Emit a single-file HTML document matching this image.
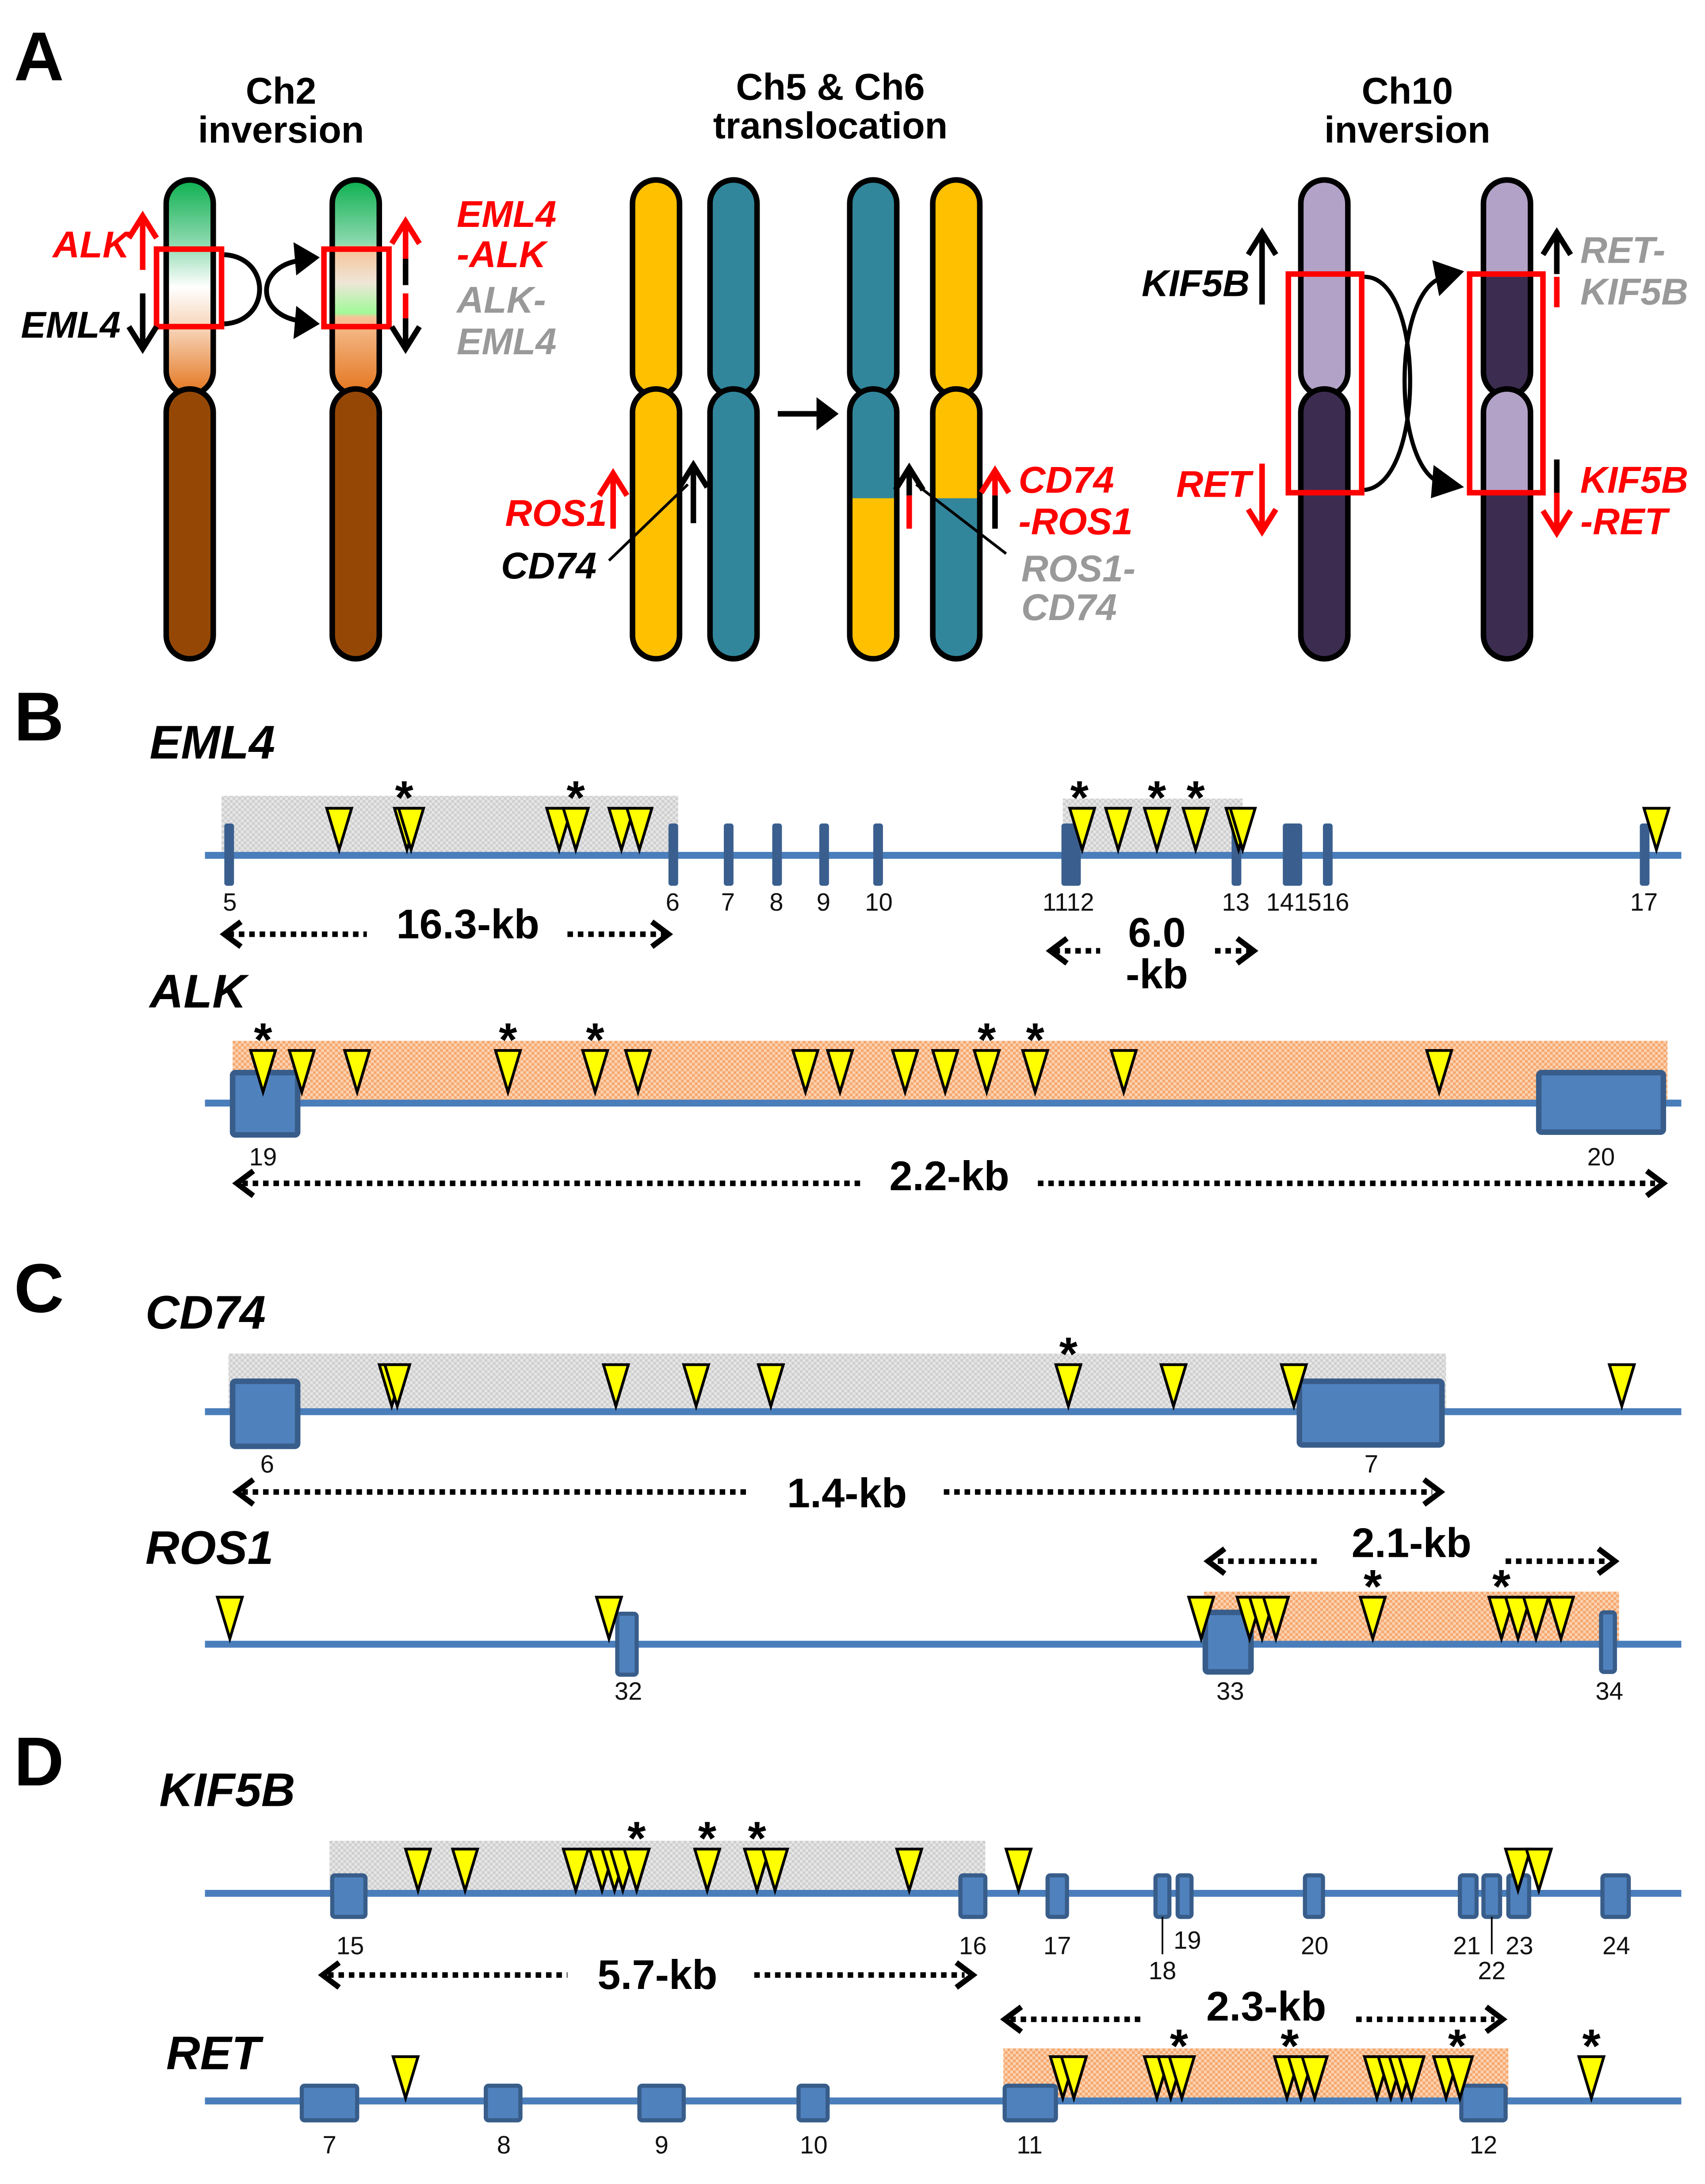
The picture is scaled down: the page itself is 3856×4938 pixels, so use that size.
<!DOCTYPE html>
<html><head><meta charset="utf-8"><style>
html,body{margin:0;padding:0;background:#fff;}
svg{display:block;}
text{font-family:"Liberation Sans",sans-serif;}
.lab{font-weight:bold;font-style:italic;font-size:34px;}
.big{font-weight:bold;font-size:50px;}
.ttl{font-weight:bold;font-size:27px;}
.num{font-size:18px;fill:#111;}
.kb{font-weight:bold;font-size:30px;}
.ast{font-weight:bold;font-size:34px;}
.gl{font-weight:bold;font-style:italic;font-size:27px;}
</style></head><body>
<svg width="3856" height="4938" viewBox="0 0 1232 1578" xmlns="http://www.w3.org/2000/svg">
<defs>
<polygon id="t" points="-9,0 9,0 0,30" fill="#FFFF00" stroke="#000" stroke-width="2" stroke-linejoin="miter"/>
<linearGradient id="g1" x1="0" y1="0" x2="0" y2="1">
<stop offset="0" stop-color="#0DB050"/><stop offset="0.3" stop-color="#8FDAB0"/><stop offset="0.5" stop-color="#fff"/><stop offset="0.7" stop-color="#F6D2B5"/><stop offset="1" stop-color="#E3741C"/></linearGradient>
<linearGradient id="g2" x1="0" y1="0" x2="0" y2="1">
<stop offset="0" stop-color="#0DB050"/><stop offset="0.3" stop-color="#8FDAB0"/><stop offset="0.32" stop-color="#F7C297"/><stop offset="0.48" stop-color="#EEE6D8"/><stop offset="0.62" stop-color="#A0FA98"/><stop offset="0.64" stop-color="#F7C297"/><stop offset="1" stop-color="#E3741C"/></linearGradient>
<pattern id="gp" width="4" height="4" patternUnits="userSpaceOnUse"><rect width="4" height="4" fill="#E6E6E6"/><rect width="2" height="2" fill="#CFCFCF"/><rect x="2" y="2" width="2" height="2" fill="#CFCFCF"/></pattern>
<pattern id="op" width="4" height="4" patternUnits="userSpaceOnUse"><rect width="4" height="4" fill="#FBD3B3"/><rect width="2" height="2" fill="#F6A86E"/><rect x="2" y="2" width="2" height="2" fill="#F6A86E"/></pattern>
</defs>
<rect width="1232" height="1578" fill="#fff"/>

<!-- ===== Panel A ===== -->
<text x="10" y="58" class="big">A</text>
<text x="203" y="75" class="ttl" text-anchor="middle">Ch2</text>
<text x="203" y="103" class="ttl" text-anchor="middle">inversion</text>
<text x="600" y="72" class="ttl" text-anchor="middle">Ch5 &amp; Ch6</text>
<text x="600" y="100" class="ttl" text-anchor="middle">translocation</text>
<text x="1017" y="75" class="ttl" text-anchor="middle">Ch10</text>
<text x="1017" y="103" class="ttl" text-anchor="middle">inversion</text>

<g stroke="#000" stroke-width="4">
<rect x="120" y="130" width="34" height="155" rx="17" fill="url(#g1)"/>
<rect x="120" y="281" width="34" height="195" rx="17" fill="#954806"/>
<rect x="240" y="130" width="34" height="155" rx="17" fill="url(#g2)"/>
<rect x="240" y="281" width="34" height="195" rx="17" fill="#954806"/>
</g>
<rect x="113" y="180" width="47" height="56" fill="none" stroke="#f00" stroke-width="4"/>
<rect x="234" y="180" width="47" height="56" fill="none" stroke="#f00" stroke-width="4"/>
<path d="M162,184 C196,186 196,232 162,234" fill="none" stroke="#000" stroke-width="3.5"/>
<path d="M218,188 C184,192 184,228 218,232" fill="none" stroke="#000" stroke-width="3.5"/>
<polygon points="212,175 231,186 214,199" fill="#000"/>
<polygon points="214,221 231,234 212,245" fill="#000"/>
<!-- ALK/EML4 arrows -->
<line x1="103" y1="195" x2="103" y2="158" stroke="#f00" stroke-width="4"/>
<polyline points="93,172 103,156 113,172" fill="none" stroke="#f00" stroke-width="4"/>
<line x1="103" y1="212" x2="103" y2="250" stroke="#000" stroke-width="4"/>
<polyline points="93,236 103,252 113,236" fill="none" stroke="#000" stroke-width="4"/>
<text x="38" y="186" class="gl" fill="#f00">ALK</text>
<text x="15" y="244" class="gl" fill="#000">EML4</text>
<line x1="293" y1="195" x2="293" y2="160" stroke="#f00" stroke-width="4"/>
<line x1="293" y1="187" x2="293" y2="206" stroke="#000" stroke-width="4"/>
<line x1="293" y1="212" x2="293" y2="230" stroke="#f00" stroke-width="4"/>
<line x1="293" y1="230" x2="293" y2="250" stroke="#000" stroke-width="4"/>
<polyline points="283,176 293,160 303,176" fill="none" stroke="#f00" stroke-width="4"/>
<polyline points="283,236 293,252 303,236" fill="none" stroke="#000" stroke-width="4"/>
<text x="330" y="164" class="gl" fill="#f00">EML4</text>
<text x="330" y="193" class="gl" fill="#f00">-ALK</text>
<text x="330" y="226" class="gl" fill="#999">ALK-</text>
<text x="330" y="256" class="gl" fill="#999">EML4</text>

<!-- Ch5/6 -->
<g stroke="#000" stroke-width="4">
<rect x="457" y="130" width="34" height="156" rx="17" fill="#FFC000"/>
<rect x="457" y="281" width="34" height="195" rx="17" fill="#FFC000"/>
<rect x="513" y="130" width="34" height="156" rx="17" fill="#31869B"/>
<rect x="513" y="281" width="34" height="195" rx="17" fill="#31869B"/>
<rect x="614" y="130" width="34" height="156" rx="17" fill="#31869B"/>
<rect x="674" y="130" width="34" height="156" rx="17" fill="#FFC000"/>
</g>
<path d="M614,298 a17,17 0 0 1 34,0 V360 H614 Z" fill="#31869B"/>
<path d="M614,360 H648 V459 a17,17 0 0 1 -34,0 Z" fill="#FFC000"/>
<rect x="614" y="281" width="34" height="195" rx="17" fill="none" stroke="#000" stroke-width="4"/>
<path d="M674,298 a17,17 0 0 1 34,0 V360 H674 Z" fill="#FFC000"/>
<path d="M674,360 H708 V459 a17,17 0 0 1 -34,0 Z" fill="#31869B"/>
<rect x="674" y="281" width="34" height="195" rx="17" fill="none" stroke="#000" stroke-width="4"/>
<line x1="562" y1="299" x2="592" y2="299" stroke="#000" stroke-width="4"/>
<polygon points="590,287 606,299 590,311" fill="#000"/>
<line x1="443" y1="382" x2="443" y2="344" stroke="#f00" stroke-width="4"/>
<polyline points="433,358 443,342 453,358" fill="none" stroke="#f00" stroke-width="4"/>
<line x1="501" y1="378" x2="501" y2="338" stroke="#000" stroke-width="4"/>
<polyline points="491,352 501,336 511,352" fill="none" stroke="#000" stroke-width="4"/>
<line x1="440" y1="405" x2="497" y2="350" stroke="#000" stroke-width="2"/>
<text x="365" y="380" class="gl" fill="#f00">ROS1</text>
<text x="362" y="418" class="gl" fill="#000">CD74</text>
<line x1="657" y1="358" x2="657" y2="340" stroke="#000" stroke-width="4"/>
<polyline points="647,354 657,338 667,354" fill="none" stroke="#000" stroke-width="4"/>
<line x1="657" y1="358" x2="657" y2="382" stroke="#f00" stroke-width="4"/>
<line x1="719" y1="358" x2="719" y2="342" stroke="#f00" stroke-width="4"/>
<polyline points="709,356 719,340 729,356" fill="none" stroke="#f00" stroke-width="4"/>
<line x1="719" y1="358" x2="719" y2="382" stroke="#000" stroke-width="4"/>
<line x1="727" y1="400" x2="662" y2="350" stroke="#000" stroke-width="2"/>
<text x="736" y="356" class="gl" fill="#f00">CD74</text>
<text x="736" y="386" class="gl" fill="#f00">-ROS1</text>
<text x="738" y="420" class="gl" fill="#999">ROS1-</text>
<text x="738" y="448" class="gl" fill="#999">CD74</text>

<!-- Ch10 -->
<g stroke="#000" stroke-width="4">
<rect x="940" y="130" width="34" height="156" rx="17" fill="#B3A2C8"/>
<rect x="940" y="281" width="34" height="195" rx="17" fill="#3B2C50"/>
</g>
<path d="M1072,147 a17,17 0 0 1 34,0 V200 H1072 Z" fill="#B3A2C8"/>
<path d="M1072,200 H1106 V269 a17,17 0 0 1 -34,0 Z" fill="#3B2C50"/>
<rect x="1072" y="130" width="34" height="156" rx="17" fill="none" stroke="#000" stroke-width="4"/>
<path d="M1072,298 a17,17 0 0 1 34,0 V356 H1072 Z" fill="#B3A2C8"/>
<path d="M1072,356 H1106 V459 a17,17 0 0 1 -34,0 Z" fill="#3B2C50"/>
<rect x="1072" y="281" width="34" height="195" rx="17" fill="none" stroke="#000" stroke-width="4"/>
<rect x="931" y="198" width="53" height="158" fill="none" stroke="#f00" stroke-width="4"/>
<rect x="1062" y="198" width="53" height="158" fill="none" stroke="#f00" stroke-width="4"/>
<path d="M986,200 C1030,200 1030,350 986,354" fill="none" stroke="#000" stroke-width="3"/>
<path d="M1045,200 C1005,205 1005,345 1045,350" fill="none" stroke="#000" stroke-width="3"/>
<polygon points="1035,188 1058,196 1040,214" fill="#000"/>
<polygon points="1036,336 1058,352 1034,360" fill="#000"/>
<line x1="912" y1="220" x2="912" y2="170" stroke="#000" stroke-width="4"/>
<polyline points="902,184 912,168 922,184" fill="none" stroke="#000" stroke-width="4"/>
<text x="825" y="214" class="gl" fill="#000">KIF5B</text>
<line x1="912" y1="335" x2="912" y2="382" stroke="#f00" stroke-width="4"/>
<polyline points="902,368 912,384 922,368" fill="none" stroke="#f00" stroke-width="4"/>
<text x="850" y="359" class="gl" fill="#f00">RET</text>
<line x1="1125" y1="198" x2="1125" y2="170" stroke="#000" stroke-width="4"/>
<polyline points="1115,184 1125,168 1135,184" fill="none" stroke="#000" stroke-width="4"/>
<line x1="1125" y1="200" x2="1125" y2="222" stroke="#f00" stroke-width="4"/>
<line x1="1125" y1="332" x2="1125" y2="356" stroke="#000" stroke-width="4"/>
<line x1="1125" y1="356" x2="1125" y2="383" stroke="#f00" stroke-width="4"/>
<polyline points="1115,369 1125,385 1135,369" fill="none" stroke="#f00" stroke-width="4"/>
<text x="1142" y="190" class="gl" fill="#999">RET-</text>
<text x="1142" y="220" class="gl" fill="#999">KIF5B</text>
<text x="1142" y="356" class="gl" fill="#f00">KIF5B</text>
<text x="1142" y="386" class="gl" fill="#f00">-RET</text>

<!-- ===== Panel B ===== -->
<text x="10" y="535" class="big">B</text>
<text x="108" y="548" class="lab">EML4</text>
<rect x="160" y="575" width="330" height="43" fill="url(#gp)"/>
<rect x="768" y="577" width="130" height="41" fill="url(#gp)"/>
<line x1="148" y1="618" x2="1215" y2="618" stroke="#4A7EBB" stroke-width="5"/>
<g fill="#3A5F8F">
<rect x="162" y="595" width="7" height="45" rx="2"/><rect x="483" y="595" width="7" height="45" rx="2"/>
<rect x="523" y="595" width="7" height="45" rx="2"/><rect x="558" y="595" width="7" height="45" rx="2"/>
<rect x="592" y="595" width="7" height="45" rx="2"/><rect x="631" y="595" width="7" height="45" rx="2"/>
<rect x="767" y="595" width="14" height="45" rx="2"/><rect x="890" y="595" width="7" height="45" rx="2"/>
<rect x="927" y="595" width="14" height="45" rx="2"/><rect x="956" y="595" width="7" height="45" rx="2"/>
<rect x="1185" y="595" width="7" height="45" rx="2"/>
</g>
<g text-anchor="middle">
<text x="166" y="658" class="num">5</text><text x="486" y="658" class="num">6</text><text x="526" y="658" class="num">7</text>
<text x="561" y="658" class="num">8</text><text x="595" y="658" class="num">9</text><text x="635" y="658" class="num">10</text>
<text x="772" y="658" class="num">1112</text><text x="893" y="658" class="num">13</text><text x="945" y="658" class="num">141516</text>
<text x="1188" y="658" class="num">17</text></g>
<g>
<use href="#t" x="245" y="584"/><use href="#t" x="294" y="584"/><use href="#t" x="297" y="584"/>
<use href="#t" x="404" y="584"/><use href="#t" x="416" y="584"/><use href="#t" x="449" y="584"/><use href="#t" x="462" y="584"/>
<use href="#t" x="782" y="584"/><use href="#t" x="808" y="584"/><use href="#t" x="836" y="584"/><use href="#t" x="864" y="584"/>
<use href="#t" x="895" y="584"/><use href="#t" x="898" y="584"/><use href="#t" x="1197" y="584"/>
</g>
<g class="ast" text-anchor="middle"><text x="292" y="588">*</text><text x="416" y="588">*</text><text x="780" y="588">*</text><text x="836" y="588">*</text><text x="864" y="588">*</text></g>
<g stroke="#000" stroke-width="4" fill="none">
<line x1="165" y1="675" x2="265" y2="675" stroke-dasharray="4,3.5"/><line x1="410" y1="675" x2="480" y2="675" stroke-dasharray="4,3.5"/>
<polyline points="174,666 162,675 174,684"/><polyline points="471,666 483,675 471,684"/>
<line x1="762" y1="687" x2="795" y2="687" stroke-dasharray="4,3.5"/><line x1="878" y1="687" x2="903" y2="687" stroke-dasharray="4,3.5"/>
<polyline points="771,678 759,687 771,696"/><polyline points="894,678 906,687 894,696"/>
</g>
<text x="338" y="678" class="kb" text-anchor="middle">16.3-kb</text>
<text x="836" y="684" class="kb" text-anchor="middle">6.0</text>
<text x="836" y="714" class="kb" text-anchor="middle">-kb</text>

<text x="108" y="728" class="lab">ALK</text>
<rect x="168" y="752" width="1037" height="45" fill="url(#op)"/>
<line x1="148" y1="797" x2="1215" y2="797" stroke="#4A7EBB" stroke-width="5"/>
<rect x="168" y="775" width="47" height="45" rx="2" fill="#4F81BD" stroke="#385D8A" stroke-width="4"/>
<rect x="1112" y="775" width="90" height="43" rx="2" fill="#4F81BD" stroke="#385D8A" stroke-width="4"/>
<g>
<use href="#t" x="190" y="759"/><use href="#t" x="218" y="759"/><use href="#t" x="258" y="759"/><use href="#t" x="367" y="759"/>
<use href="#t" x="430" y="759"/><use href="#t" x="461" y="759"/><use href="#t" x="582" y="759"/><use href="#t" x="607" y="759"/>
<use href="#t" x="654" y="759"/><use href="#t" x="683" y="759"/><use href="#t" x="713" y="759"/><use href="#t" x="748" y="759"/>
<use href="#t" x="812" y="759"/><use href="#t" x="1040" y="759"/>
</g>
<g class="ast" text-anchor="middle"><text x="190" y="763">*</text><text x="367" y="763">*</text><text x="430" y="763">*</text><text x="713" y="763">*</text><text x="748" y="763">*</text></g>
<text x="190" y="842" class="num" text-anchor="middle">19</text><text x="1157" y="842" class="num" text-anchor="middle">20</text>
<g stroke="#000" stroke-width="4" fill="none">
<line x1="175" y1="855" x2="625" y2="855" stroke-dasharray="4,3.5"/><line x1="750" y1="855" x2="1196" y2="855" stroke-dasharray="4,3.5"/>
<polyline points="183,846 171,855 183,864"/><polyline points="1190,846 1202,855 1190,864"/>
</g>
<text x="686" y="860" class="kb" text-anchor="middle">2.2-kb</text>

<!-- ===== Panel C ===== -->
<text x="10" y="948" class="big">C</text>
<text x="105" y="960" class="lab">CD74</text>
<rect x="165" y="978" width="880" height="42" fill="url(#gp)"/>
<line x1="148" y1="1020" x2="1215" y2="1020" stroke="#4A7EBB" stroke-width="5"/>
<rect x="168" y="998" width="47" height="47" rx="2" fill="#4F81BD" stroke="#385D8A" stroke-width="4"/>
<rect x="939" y="998" width="103" height="46" rx="2" fill="#4F81BD" stroke="#385D8A" stroke-width="4"/>
<g>
<use href="#t" x="283" y="986"/><use href="#t" x="287" y="986"/><use href="#t" x="445" y="986"/><use href="#t" x="503" y="986"/>
<use href="#t" x="557" y="986"/><use href="#t" x="772" y="986"/><use href="#t" x="848" y="986"/><use href="#t" x="935" y="986"/><use href="#t" x="1172" y="986"/>
</g>
<text x="772" y="990" class="ast" text-anchor="middle">*</text>
<text x="193" y="1064" class="num" text-anchor="middle">6</text><text x="991" y="1064" class="num" text-anchor="middle">7</text>
<g stroke="#000" stroke-width="4" fill="none">
<line x1="175" y1="1078" x2="540" y2="1078" stroke-dasharray="4,3.5"/><line x1="682" y1="1078" x2="1035" y2="1078" stroke-dasharray="4,3.5"/>
<polyline points="183,1069 171,1078 183,1087"/><polyline points="1029,1069 1041,1078 1029,1087"/>
</g>
<text x="612" y="1089" class="kb" text-anchor="middle">1.4-kb</text>

<text x="105" y="1130" class="lab">ROS1</text>
<rect x="870" y="1150" width="300" height="38" fill="url(#op)"/>
<line x1="148" y1="1188" x2="1215" y2="1188" stroke="#4A7EBB" stroke-width="5"/>
<rect x="446" y="1166" width="14" height="44" rx="2" fill="#4F81BD" stroke="#385D8A" stroke-width="3"/>
<rect x="871" y="1165" width="33" height="43" rx="2" fill="#4F81BD" stroke="#385D8A" stroke-width="4"/>
<rect x="1157" y="1165" width="10" height="43" rx="2" fill="#4F81BD" stroke="#385D8A" stroke-width="3"/>
<g>
<use href="#t" x="166" y="1154"/><use href="#t" x="440" y="1154"/><use href="#t" x="868" y="1154"/><use href="#t" x="903" y="1154"/>
<use href="#t" x="912" y="1154"/><use href="#t" x="922" y="1154"/><use href="#t" x="992" y="1154"/><use href="#t" x="1085" y="1154"/>
<use href="#t" x="1097" y="1154"/><use href="#t" x="1110" y="1154"/><use href="#t" x="1128" y="1154"/>
</g>
<text x="992" y="1158" class="ast" text-anchor="middle">*</text><text x="1085" y="1158" class="ast" text-anchor="middle">*</text>
<text x="454" y="1228" class="num" text-anchor="middle">32</text><text x="889" y="1228" class="num" text-anchor="middle">33</text><text x="1163" y="1228" class="num" text-anchor="middle">34</text>
<g stroke="#000" stroke-width="4" fill="none">
<line x1="880" y1="1128" x2="955" y2="1128" stroke-dasharray="4,3.5"/><line x1="1088" y1="1128" x2="1160" y2="1128" stroke-dasharray="4,3.5"/>
<polyline points="885,1119 873,1128 885,1137"/><polyline points="1155,1119 1167,1128 1155,1137"/>
</g>
<text x="1020" y="1125" class="kb" text-anchor="middle">2.1-kb</text>

<!-- ===== Panel D ===== -->
<text x="10" y="1290" class="big">D</text>
<text x="115" y="1305" class="lab">KIF5B</text>
<rect x="238" y="1330" width="474" height="38" fill="url(#gp)"/>
<line x1="148" y1="1368" x2="1215" y2="1368" stroke="#4A7EBB" stroke-width="5"/>
<g fill="#4F81BD" stroke="#385D8A" stroke-width="3">
<rect x="240" y="1355" width="24" height="30" rx="2"/><rect x="694" y="1355" width="18" height="30" rx="2"/>
<rect x="757" y="1355" width="14" height="30" rx="2"/><rect x="835" y="1355" width="10" height="30" rx="2"/>
<rect x="851" y="1355" width="10" height="30" rx="2"/><rect x="943" y="1355" width="13" height="30" rx="2"/>
<rect x="1055" y="1355" width="12" height="30" rx="2"/><rect x="1072" y="1355" width="12" height="30" rx="2"/>
<rect x="1090" y="1355" width="15" height="30" rx="2"/><rect x="1158" y="1355" width="19" height="30" rx="2"/>
</g>
<g>
<use href="#t" x="302" y="1336"/><use href="#t" x="336" y="1336"/><use href="#t" x="416" y="1336"/><use href="#t" x="435" y="1336"/>
<use href="#t" x="444" y="1336"/><use href="#t" x="450" y="1336"/><use href="#t" x="460" y="1336"/><use href="#t" x="511" y="1336"/>
<use href="#t" x="547" y="1336"/><use href="#t" x="560" y="1336"/><use href="#t" x="657" y="1336"/><use href="#t" x="736" y="1336"/>
<use href="#t" x="1097" y="1336"/><use href="#t" x="1112" y="1336"/>
</g>
<g class="ast" text-anchor="middle"><text x="460" y="1340">*</text><text x="511" y="1340">*</text><text x="547" y="1340">*</text></g>
<line x1="840" y1="1385" x2="840" y2="1412" stroke="#000" stroke-width="1.2"/>
<line x1="1078" y1="1385" x2="1078" y2="1412" stroke="#000" stroke-width="1.2"/>
<g text-anchor="middle">
<text x="253" y="1412" class="num">15</text><text x="703" y="1412" class="num">16</text><text x="764" y="1412" class="num">17</text>
<text x="840" y="1430" class="num">18</text><text x="858" y="1408" class="num">19</text><text x="950" y="1412" class="num">20</text>
<text x="1060" y="1412" class="num">21</text><text x="1078" y="1430" class="num">22</text><text x="1098" y="1412" class="num">23</text><text x="1168" y="1412" class="num">24</text>
</g>
<g stroke="#000" stroke-width="4" fill="none">
<line x1="237" y1="1427" x2="410" y2="1427" stroke-dasharray="4,3.5"/><line x1="545" y1="1427" x2="697" y2="1427" stroke-dasharray="4,3.5"/>
<polyline points="245,1418 233,1427 245,1436"/><polyline points="691,1418 703,1427 691,1436"/>
</g>
<text x="475" y="1437" class="kb" text-anchor="middle">5.7-kb</text>

<text x="120" y="1495" class="lab">RET</text>
<rect x="725" y="1480" width="365" height="38" fill="url(#op)"/>
<line x1="148" y1="1518" x2="1215" y2="1518" stroke="#4A7EBB" stroke-width="5"/>
<g fill="#4F81BD" stroke="#385D8A" stroke-width="3">
<rect x="218" y="1507" width="40" height="25" rx="2"/><rect x="351" y="1507" width="25" height="25" rx="2"/>
<rect x="462" y="1507" width="32" height="25" rx="2"/><rect x="577" y="1507" width="21" height="25" rx="2"/>
<rect x="726" y="1507" width="37" height="25" rx="2"/><rect x="1056" y="1507" width="32" height="25" rx="2"/>
</g>
<g>
<use href="#t" x="293" y="1486"/><use href="#t" x="768" y="1486"/><use href="#t" x="776" y="1486"/>
<use href="#t" x="836" y="1486"/><use href="#t" x="846" y="1486"/><use href="#t" x="854" y="1486"/>
<use href="#t" x="930" y="1486"/><use href="#t" x="940" y="1486"/><use href="#t" x="950" y="1486"/>
<use href="#t" x="995" y="1486"/><use href="#t" x="1005" y="1486"/><use href="#t" x="1013" y="1486"/><use href="#t" x="1020" y="1486"/>
<use href="#t" x="1045" y="1486"/><use href="#t" x="1055" y="1486"/><use href="#t" x="1150" y="1486"/>
</g>
<g class="ast" text-anchor="middle"><text x="852" y="1490">*</text><text x="932" y="1490">*</text><text x="1053" y="1490">*</text><text x="1150" y="1490">*</text></g>
<g text-anchor="middle">
<text x="238" y="1556" class="num">7</text><text x="364" y="1556" class="num">8</text><text x="478" y="1556" class="num">9</text>
<text x="588" y="1556" class="num">10</text><text x="744" y="1556" class="num">11</text><text x="1072" y="1556" class="num">12</text>
</g>
<g stroke="#000" stroke-width="4" fill="none">
<line x1="730" y1="1459" x2="825" y2="1459" stroke-dasharray="4,3.5"/><line x1="980" y1="1459" x2="1080" y2="1459" stroke-dasharray="4,3.5"/>
<polyline points="738,1450 726,1459 738,1468"/><polyline points="1074,1450 1086,1459 1074,1468"/>
</g>
<text x="915" y="1460" class="kb" text-anchor="middle">2.3-kb</text>
</svg>
</body></html>
